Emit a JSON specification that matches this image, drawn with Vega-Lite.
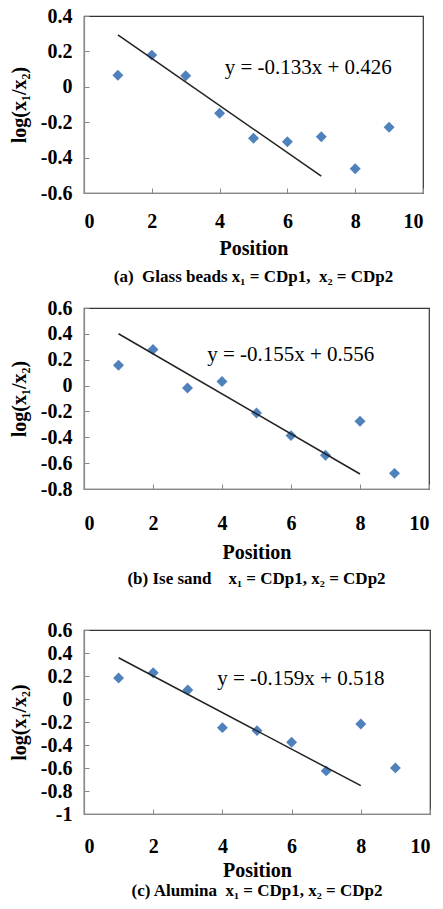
{
  "$schema": "https://vega.github.io/schema/vega-lite/v6.json",
  "padding": {"left": 8, "top": 5, "right": 0, "bottom": 0},
  "spacing": 31,
  "background": "white",
  "config": {
    "font": "Liberation Serif",
    "view": {"stroke": "#333333", "strokeWidth": 1.2},
    "axis": {
      "grid": false,
      "domainColor": "#888888",
      "domainWidth": 1.2,
      "tickColor": "#888888",
      "tickSize": -5,
      "labelFont": "Liberation Serif",
      "labelFontWeight": "bold",
      "labelFontSize": 20,
      "labelColor": "#000000",
      "labelExpr": "datum.value + ''",
      "titleFont": "Liberation Serif",
      "titleFontSize": 20,
      "titleFontWeight": "bold",
      "titleColor": "#000000"
    },
    "axisY": {"labelPadding": 17, "titlePadding": 11},
    "title": {"orient": "bottom", "font": "Liberation Serif", "fontSize": 17, "fontWeight": "bold", "color": "#000000"}
  },
  "datasets": {
    "a_pts": [
      {"pos": 1, "val": 0.065}, {"pos": 2, "val": 0.179}, {"pos": 3, "val": 0.063},
      {"pos": 4, "val": -0.149}, {"pos": 5, "val": -0.291}, {"pos": 6, "val": -0.31},
      {"pos": 7, "val": -0.282}, {"pos": 8, "val": -0.463}, {"pos": 9, "val": -0.229}
    ],
    "a_fit": [{"pos": 1, "val": 0.293}, {"pos": 7, "val": -0.505}],
    "a_eq": [{"pos": 4.15, "val": 0.109, "label": "y = -0.133x + 0.426"}],
    "b_pts": [
      {"pos": 1, "val": 0.157}, {"pos": 2, "val": 0.279}, {"pos": 3, "val": -0.018},
      {"pos": 4, "val": 0.031}, {"pos": 5, "val": -0.212}, {"pos": 6, "val": -0.387},
      {"pos": 7, "val": -0.539}, {"pos": 8, "val": -0.276}, {"pos": 9, "val": -0.679}
    ],
    "b_fit": [{"pos": 1, "val": 0.401}, {"pos": 8, "val": -0.684}],
    "b_eq": [{"pos": 3.57, "val": 0.24, "label": "y = -0.155x + 0.556"}],
    "c_pts": [
      {"pos": 1, "val": 0.182}, {"pos": 2, "val": 0.229}, {"pos": 3, "val": 0.078},
      {"pos": 4, "val": -0.249}, {"pos": 5, "val": -0.275}, {"pos": 6, "val": -0.376},
      {"pos": 7, "val": -0.625}, {"pos": 8, "val": -0.217}, {"pos": 9, "val": -0.599}
    ],
    "c_fit": [{"pos": 1, "val": 0.359}, {"pos": 8, "val": -0.754}],
    "c_eq": [{"pos": 3.85, "val": 0.174, "label": "y = -0.159x + 0.518"}]
  },
  "vconcat": [
    {
      "spacing": 11,
      "vconcat": [
        {
          "width": 339,
          "height": 177,
          "title": {"text": "(a)\u00a0\u00a0Glass beads x₁ = CDp1,\u00a0\u00a0x₂ = CDp2", "offset": 11},
          "encoding": {
            "x": {"field": "pos", "type": "quantitative", "scale": {"domain": [0, 10], "nice": false}, "axis": {"values": [0, 2, 4, 6, 8, 10], "title": "Position", "labelPadding": 23, "titlePadding": 7}},
            "y": {"field": "val", "type": "quantitative", "scale": {"domain": [-0.6, 0.4], "nice": false, "zero": false}, "axis": {"values": [-0.6, -0.4, -0.2, 0, 0.2, 0.4], "title": "log(x₁/x₂)"}}
          },
          "layer": [
            {"data": {"name": "a_pts"}, "mark": {"type": "point", "shape": "diamond", "filled": true, "size": 120, "color": "#4F81BD", "opacity": 1}},
            {"data": {"name": "a_fit"}, "mark": {"type": "line", "color": "#222222", "strokeWidth": 1.5}},
            {"data": {"name": "a_eq"}, "mark": {"type": "text", "align": "left", "baseline": "middle", "fontSize": 21, "font": "Liberation Serif", "color": "#000000"}, "encoding": {"text": {"field": "label"}}}
          ]
        },
        {
          "width": 345,
          "height": 181,
          "title": {"text": "(b) Ise sand\u00a0\u00a0\u00a0\u00a0x₁ = CDp1, x₂ = CDp2", "offset": 9},
          "encoding": {
            "x": {"field": "pos", "type": "quantitative", "scale": {"domain": [0, 10], "nice": false}, "axis": {"values": [0, 2, 4, 6, 8, 10], "title": "Position", "labelPadding": 29, "titlePadding": 9}},
            "y": {"field": "val", "type": "quantitative", "scale": {"domain": [-0.8, 0.6], "nice": false, "zero": false}, "axis": {"values": [-0.8, -0.6, -0.4, -0.2, 0, 0.2, 0.4, 0.6], "title": "log(x₁/x₂)"}}
          },
          "layer": [
            {"data": {"name": "b_pts"}, "mark": {"type": "point", "shape": "diamond", "filled": true, "size": 120, "color": "#4F81BD", "opacity": 1}},
            {"data": {"name": "b_fit"}, "mark": {"type": "line", "color": "#222222", "strokeWidth": 1.5}},
            {"data": {"name": "b_eq"}, "mark": {"type": "text", "align": "left", "baseline": "middle", "fontSize": 21, "font": "Liberation Serif", "color": "#000000"}, "encoding": {"text": {"field": "label"}}}
          ]
        }
      ]
    },
    {
      "width": 346,
      "height": 184,
      "title": {"text": "(c) Alumina\u00a0\u00a0x₁ = CDp1, x₂ = CDp2", "offset": 3},
      "encoding": {
        "x": {"field": "pos", "type": "quantitative", "scale": {"domain": [0, 10], "nice": false}, "axis": {"values": [0, 2, 4, 6, 8, 10], "title": "Position", "labelPadding": 27, "titlePadding": 4}},
        "y": {"field": "val", "type": "quantitative", "scale": {"domain": [-1, 0.6], "nice": false, "zero": false}, "axis": {"values": [-1, -0.8, -0.6, -0.4, -0.2, 0, 0.2, 0.4, 0.6], "title": "log(x₁/x₂)"}}
      },
      "layer": [
        {"data": {"name": "c_pts"}, "mark": {"type": "point", "shape": "diamond", "filled": true, "size": 120, "color": "#4F81BD", "opacity": 1}},
        {"data": {"name": "c_fit"}, "mark": {"type": "line", "color": "#222222", "strokeWidth": 1.5}},
        {"data": {"name": "c_eq"}, "mark": {"type": "text", "align": "left", "baseline": "middle", "fontSize": 21, "font": "Liberation Serif", "color": "#000000"}, "encoding": {"text": {"field": "label"}}}
      ]
    }
  ]
}
